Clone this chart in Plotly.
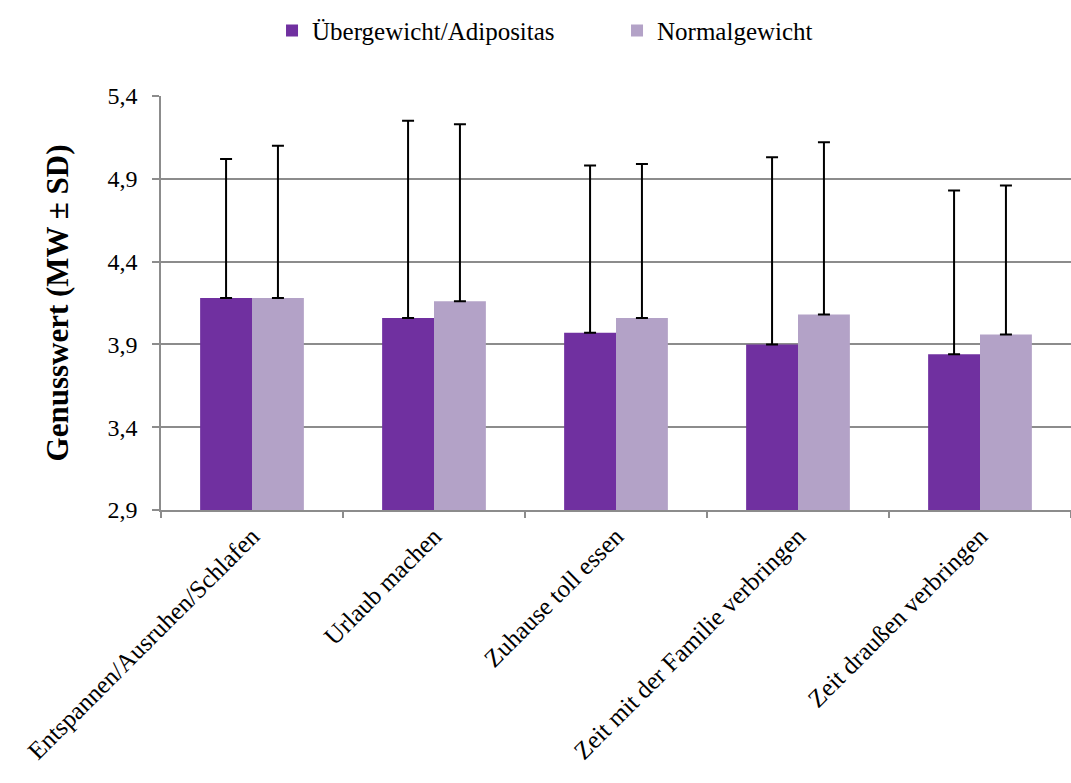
import plotly.graph_objects as go

categories = ["Entspannen/Ausruhen/Schlafen", "Urlaub machen", "Zuhause toll essen",
              "Zeit mit der Familie verbringen", "Zeit draußen verbringen"]
series_names = ["Übergewicht/Adipositas", "Normalgewicht"]
mean_over = [4.18, 4.06, 3.97, 3.90, 3.84]
sd_over = [0.84, 1.19, 1.01, 1.13, 0.99]
mean_normal = [4.18, 4.16, 4.06, 4.08, 3.96]
sd_normal = [0.92, 1.07, 0.93, 1.04, 0.90]
y_ticks = [2.9, 3.4, 3.9, 4.4, 4.9, 5.4]

colors = ["#7030A0", "#B3A2C7"]
font_family = "Liberation Serif, Times New Roman, serif"

fig = go.Figure()
for name, means, sds, col in [(series_names[0], mean_over, sd_over, colors[0]),
                              (series_names[1], mean_normal, sd_normal, colors[1])]:
    fig.add_trace(go.Bar(
        x=categories, y=means, name=name,
        marker=dict(color=col, line=dict(width=0)),
        error_y=dict(type="data", symmetric=False, array=sds,
                     arrayminus=[0] * len(sds), color="black",
                     thickness=2, width=6),
    ))

fig.update_layout(
    width=1071, height=783,
    paper_bgcolor="white", plot_bgcolor="white",
    font=dict(family=font_family, color="black", size=24),
    separators=",.",
    barmode="group", bargap=0.43, bargroupgap=0,
    margin=dict(l=161, r=0, t=96, b=273),
    legend=dict(orientation="h", xref="paper", x=0.122, xanchor="left",
                yref="container", y=0.990, yanchor="top",
                font=dict(size=25, family=font_family),
                itemwidth=30, traceorder="normal",
                entrywidth=300),
    showlegend=True,
)
fig.update_yaxes(
    range=[2.9, 5.4], tickvals=y_ticks, tickformat=".1f",
    showgrid=True, gridcolor="#8c8c8c", gridwidth=1.5,
    showline=True, linecolor="#8c8c8c", linewidth=1.5,
    ticks="outside", ticklen=7, tickcolor="#8c8c8c", tickwidth=1.5,
    tickfont=dict(size=24), ticklabelstandoff=10,
    title=dict(text="<b>Genusswert (MW ± SD)</b>", font=dict(size=31), standoff=30),
    zeroline=False,
)
fig.update_xaxes(
    tickangle=-45, tickfont=dict(size=25),
    showline=True, linecolor="#8c8c8c", linewidth=1.5,
    ticks="outside", tickson="boundaries", ticklen=6, tickcolor="#8c8c8c", tickwidth=1.5,
    showgrid=False,
)

fig.write_html("out.html")
